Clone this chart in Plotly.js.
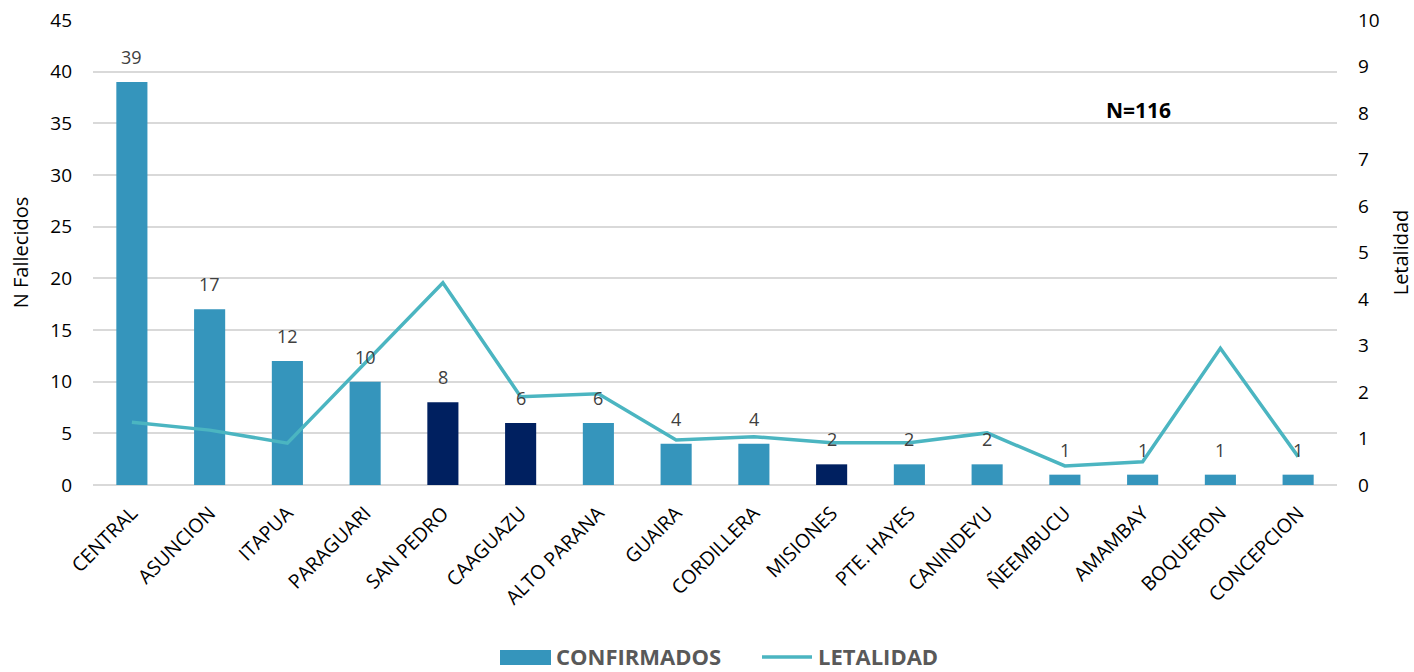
<!DOCTYPE html>
<html>
<head>
<meta charset="utf-8">
<script src="https://cdn.plot.ly/plotly-3.0.1.min.js"></script>
<style>html,body{margin:0;padding:0;background:#fff;}#chart{width:1414px;height:672px;}</style>
</head>
<body>
<div id="chart"></div>
<script>
const departamentos = ["CENTRAL","ASUNCION","ITAPUA","PARAGUARI","SAN PEDRO","CAAGUAZU","ALTO PARANA","GUAIRA","CORDILLERA","MISIONES","PTE. HAYES","CANINDEYU","ÑEEMBUCU","AMAMBAY","BOQUERON","CONCEPCION"];
const confirmados = [39,17,12,10,8,6,6,4,4,2,2,2,1,1,1,1];
const letalidad = [1.35,1.18,0.90,2.62,4.35,1.90,1.96,0.97,1.04,0.91,0.91,1.12,0.41,0.50,2.94,0.61];
const destacados = ["SAN PEDRO","CAAGUAZU","MISIONES"];

const BAR = "#3595BC", DARK = "#002060", LINE = "#4BB5C1";
const barColors = departamentos.map(d => destacados.includes(d) ? DARK : BAR);
const FONT = "Open Sans, Liberation Sans, sans-serif";

// plot area geometry in pixels (for converting legend placement to paper coords)
const L = 93, R = 1337, T = 20, B = 485;
const px = x => (x - L) / (R - L);
const py = y => (B - y) / (B - T);

const traces = [
  {
    type: "bar", name: "CONFIRMADOS", x: departamentos, y: confirmados,
    marker: {color: barColors}, width: 0.4, hoverinfo: "x+y"
  },
  {
    type: "scatter", mode: "lines", name: "LETALIDAD", x: departamentos, y: letalidad,
    yaxis: "y2", line: {color: LINE, width: 3.5}
  }
];

const labelAnnotations = departamentos.map((d, i) => ({
  x: d, y: confirmados[i], xref: "x", yref: "y", yanchor: "bottom", yshift: 11,
  text: String(confirmados[i]), showarrow: false,
  font: {family: FONT, size: 18, color: "#404040"}
}));

const layout = {
  width: 1414, height: 672,
  margin: {l: L, r: 1414 - R, t: T, b: 672 - B},
  paper_bgcolor: "#fff", plot_bgcolor: "#fff",
  font: {family: FONT, size: 18, color: "#000"},
  xaxis: {
    tickangle: -45, tickfont: {family: FONT, size: 19.5, color: "#000"},
    showgrid: false, showline: false, ticks: "", automargin: false, ticklabelstandoff: 12
  },
  yaxis: {
    range: [0, 45], dtick: 5, showgrid: true, gridcolor: "#d9d9d9", gridwidth: 1.5,
    zeroline: true, zerolinecolor: "#d9d9d9", zerolinewidth: 1.5,
    tickfont: {family: FONT, size: 19, color: "#000"}, ticklabelstandoff: 20,
    title: {text: "N Fallecidos", font: {family: FONT, size: 20, color: "#000"}, standoff: 16},
    automargin: false
  },
  yaxis2: {
    overlaying: "y", side: "right", range: [0, 10], dtick: 1, showgrid: false, zeroline: false,
    tickfont: {family: FONT, size: 19, color: "#000"}, ticklabelstandoff: 20,
    title: {text: "Letalidad", font: {family: FONT, size: 20, color: "#000"}, standoff: 32},
    automargin: false
  },
  showlegend: false,
  shapes: [
    {type: "rect", xref: "paper", yref: "paper", x0: px(500), x1: px(551), y0: py(665), y1: py(650),
     fillcolor: BAR, line: {width: 0}},
    {type: "line", xref: "paper", yref: "paper", x0: px(762), x1: px(812), y0: py(657), y1: py(657),
     line: {color: LINE, width: 3.5}}
  ],
  annotations: labelAnnotations.concat([
    {xref: "paper", yref: "paper", x: px(554), y: py(656), xanchor: "left", yanchor: "middle",
     text: "<b>CONFIRMADOS</b>", showarrow: false, font: {family: FONT, size: 22, color: "#595959"}},
    {xref: "paper", yref: "paper", x: px(816), y: py(656), xanchor: "left", yanchor: "middle",
     text: "<b>LETALIDAD</b>", showarrow: false, font: {family: FONT, size: 22, color: "#595959"}},
    {xref: "paper", yref: "paper", x: px(1138), y: py(110), xanchor: "center", yanchor: "middle",
     text: "<b>N=116</b>", showarrow: false, font: {family: FONT, size: 21, color: "#000"}}
  ])
};

Plotly.newPlot("chart", traces, layout, {displayModeBar: false});
</script>
</body>
</html>
